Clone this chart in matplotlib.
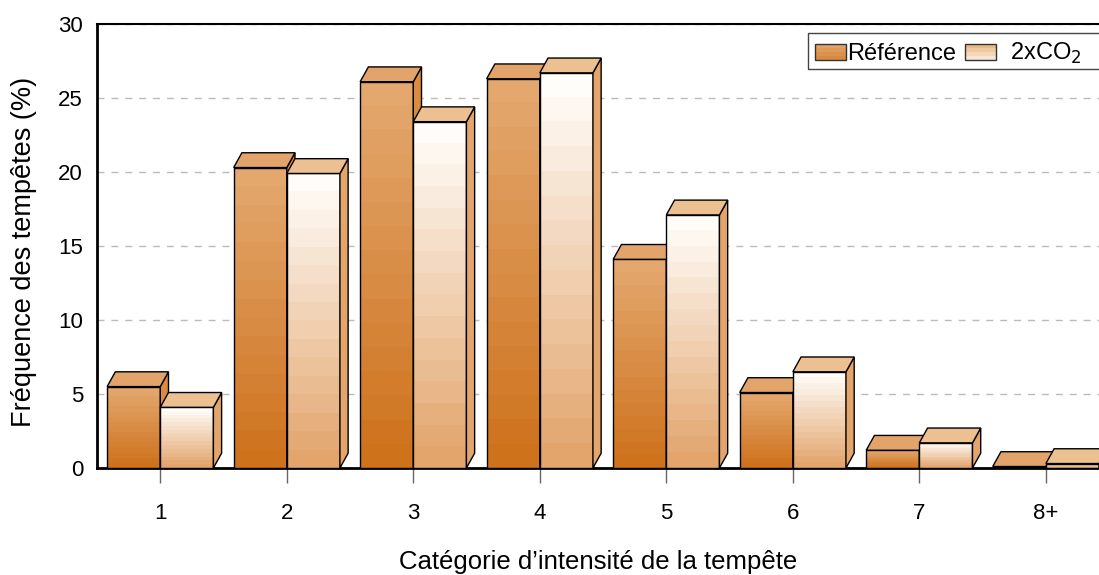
import numpy as np
import matplotlib
matplotlib.use('Agg')
import matplotlib.pyplot as plt
from matplotlib.patches import Polygon, Rectangle
from matplotlib.colors import to_rgb
from matplotlib.legend_handler import HandlerBase

plt.rcParams['font.family'] = ['Liberation Sans', 'DejaVu Sans']

# données (%)
categories = ['1', '2', '3', '4', '5', '6', '7', '8+']
reference = [5.5, 20.3, 26.1, 26.3, 14.1, 5.1, 1.2, 0.1]
doubled_co2 = [4.1, 19.9, 23.4, 26.7, 17.1, 6.5, 1.7, 0.3]

# couleurs des faces
ref_style = dict(top='#E4A86F', bottom='#CE721C', cap='#E3A46B', side='#D98B40')
co2_style = dict(top='#FFFDFA', bottom='#E3A56C', cap='#EDC092', side='#E3A56C')

bar_w = 0.42
dx, dy = 0.065, 1.0   # profondeur de l'effet 3D


def band_colors(c_top, c_bot, n):
    a, b = np.array(to_rgb(c_top)), np.array(to_rgb(c_bot))
    t = np.linspace(0, 1, n)[:, None]
    return a * (1 - t) + b * t


def draw_bar(ax, x, h, st, z):
    grad = band_colors(st['top'], st['bottom'], 16)[:, None, :]
    ax.imshow(grad, extent=(x, x + bar_w, 0, h), aspect='auto',
              interpolation='nearest', origin='upper', zorder=z)
    ax.add_patch(Rectangle((x, 0), bar_w, h, fill=False, ec='black', lw=1, zorder=z + 0.001))
    side = [(x + bar_w, 0), (x + bar_w + dx, dy), (x + bar_w + dx, h + dy), (x + bar_w, h)]
    ax.add_patch(Polygon(side, closed=True, fc=st['side'], ec='black', lw=1, zorder=z + 0.002))
    top = [(x, h), (x + dx, h + dy), (x + bar_w + dx, h + dy), (x + bar_w, h)]
    ax.add_patch(Polygon(top, closed=True, fc=st['cap'], ec='black', lw=1, zorder=z + 0.002))


class GradientHandler(HandlerBase):
    def __init__(self, c_top, c_bot, n=4):
        super().__init__()
        self.cols = band_colors(c_top, c_bot, n)

    def create_artists(self, legend, orig_handle, xdescent, ydescent,
                       width, height, fontsize, trans):
        n = len(self.cols)
        arts = []
        for k, c in enumerate(self.cols):
            y0 = -ydescent + height * (1 - (k + 1) / n)
            arts.append(Rectangle((-xdescent, y0), width, height / n, fc=c, ec='none',
                                  transform=trans))
        arts.append(Rectangle((-xdescent, -ydescent), width, height, fill=False,
                              ec='#333333', lw=1, transform=trans))
        return arts


W, H = 1099, 575
fig = plt.figure(figsize=(W / 100, H / 100), dpi=100)
ax = fig.add_axes([97 / W, 107 / H, 1 - 97 / W, 444 / H])

x = np.arange(len(categories))
for i in range(len(categories)):
    draw_bar(ax, x[i] - bar_w, reference[i], ref_style, 3 + i * 0.1)
    draw_bar(ax, x[i], doubled_co2[i], co2_style, 3.05 + i * 0.1)

ax.set_xlim(-0.5, 7.42)
ax.set_ylim(0, 30)
ax.set_yticks(range(0, 31, 5))
ax.set_xticks(x)
ax.set_xticklabels(categories)
ax.yaxis.grid(True, color='#BBBBBB', linestyle=(0, (5, 5)), lw=1)
ax.set_axisbelow(True)
ax.tick_params(axis='y', length=0, pad=10, labelsize=16)
ax.tick_params(axis='x', length=11, width=1, color='#666666', pad=14, labelsize=16)

ax.spines['right'].set_visible(False)
ax.spines['left'].set_linewidth(2)
ax.spines['bottom'].set_linewidth(2)
ax.spines['top'].set_linewidth(1.5)

ax.set_xlabel('Catégorie d’intensité de la tempête', fontsize=18.5)
ax.set_ylabel('Fréquence des tempêtes (%)', fontsize=19.5)
ax.xaxis.label.set_va('center')
ax.yaxis.label.set_va('center')
ax.xaxis.set_label_coords(0.5, (468 - 562) / 444)
ax.yaxis.set_label_coords((24 - 97) / 1002, (468 - 252) / 444)

h1 = Rectangle((0, 0), 1, 1)
h2 = Rectangle((0, 0), 1, 1)
leg = fig.legend([h1, h2], ['Référence', '  2xCO$_2$'],
                 handler_map={h1: GradientHandler('#E2A266', '#D88A40'),
                              h2: GradientHandler('#E9B986', '#F8E6D4')},
                 loc='upper left', bbox_to_anchor=(808 / W, 1 - 34 / H),
                 ncol=2, fontsize=17, frameon=False,
                 handlelength=1.3, handleheight=0.7, handletextpad=0.05,
                 columnspacing=0.4, borderpad=0.3, borderaxespad=0)
# cadre de la légende, coupé par le bord droit comme dans l'original
fig.patches.append(Rectangle((808 / W, 1 - 69 / H), 320 / W, 36 / H, fill=False,
                             ec='#444444', lw=1, transform=fig.transFigure, zorder=10))

fig.savefig('out.png', dpi=100)
